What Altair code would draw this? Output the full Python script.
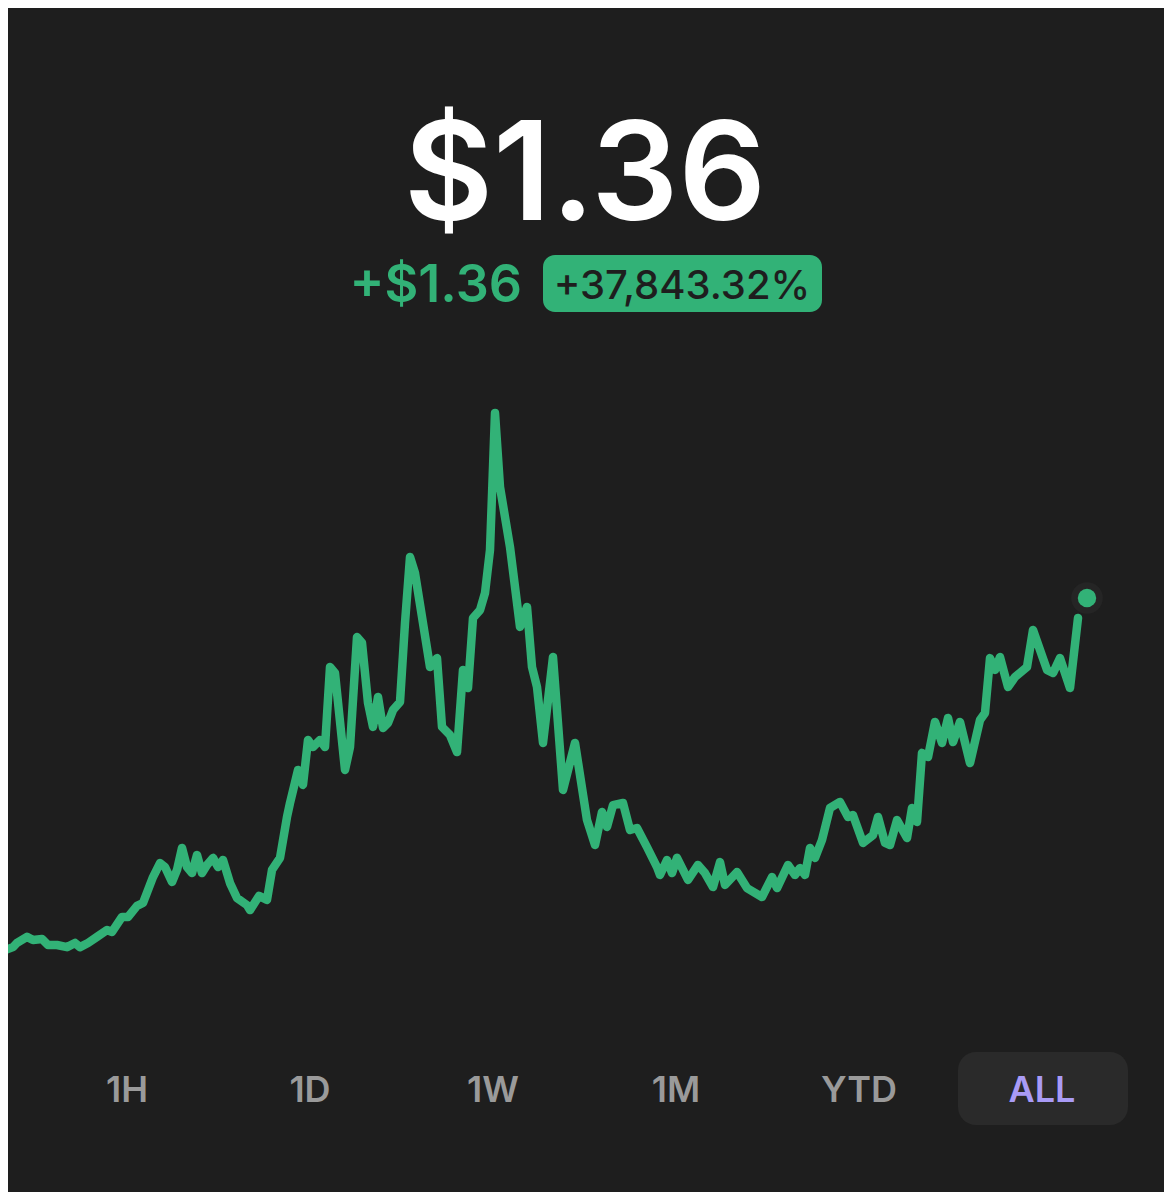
import altair as alt
import pandas as pd

# ---- data ----
days = [0, 13, 17, 27, 33, 42, 48, 57, 67, 75, 80, 88, 97, 107, 112, 122, 128, 137, 143, 153,
        160, 165, 172, 177, 182, 187, 192, 197, 202, 207, 213, 218, 223, 230, 237, 247, 250, 259, 267, 272,
        280, 287, 290, 298, 303, 308, 313, 320, 325, 330, 335, 345, 350, 357, 362, 368, 373, 378, 383, 388,
        393, 400, 405, 410, 415, 430, 437, 442, 450, 457, 463, 468, 473, 480, 485, 490, 495, 500, 510, 520,
        527, 532, 537, 543, 553, 563, 575, 587, 595, 602, 607, 613, 623, 630, 637, 647, 657, 660, 667, 672,
        677, 688, 698, 705, 713, 720, 725, 737, 747, 762, 772, 777, 788, 795, 800, 805, 810, 815, 822, 830,
        840, 848, 853, 863, 873, 878, 885, 890, 897, 907, 912, 917, 922, 928, 935, 942, 948, 953, 960, 970,
        980, 985, 990, 995, 1000, 1008, 1015, 1027, 1033, 1047, 1053, 1060, 1070, 1078]
prices = [0.011, 0.030, 0.046, 0.069, 0.057, 0.061, 0.038, 0.038, 0.030, 0.046, 0.030, 0.046, 0.069, 0.095, 0.088, 0.145, 0.145, 0.187, 0.198, 0.297,
          0.350, 0.335, 0.278, 0.324, 0.408, 0.335, 0.312, 0.381, 0.312, 0.343, 0.370, 0.335, 0.362, 0.274, 0.217, 0.190, 0.171, 0.225, 0.210, 0.324,
          0.370, 0.526, 0.579, 0.705, 0.648, 0.819, 0.792, 0.819, 0.792, 1.097, 1.074, 0.705, 0.792, 1.211, 1.189, 0.960, 0.869, 0.983, 0.865, 0.884,
          0.933, 0.964, 1.265, 1.516, 1.455, 1.097, 1.131, 0.869, 0.838, 0.773, 1.086, 1.017, 1.284, 1.314, 1.379, 1.543, 2.065, 1.783, 1.554, 1.250,
          1.326, 1.097, 1.021, 0.808, 1.135, 0.629, 0.808, 0.514, 0.419, 0.545, 0.488, 0.571, 0.579, 0.476, 0.484, 0.411, 0.335, 0.305, 0.362, 0.312,
          0.370, 0.286, 0.343, 0.312, 0.259, 0.354, 0.267, 0.316, 0.255, 0.221, 0.297, 0.255, 0.343, 0.305, 0.331, 0.305, 0.408, 0.370, 0.438, 0.560,
          0.583, 0.526, 0.533, 0.427, 0.457, 0.526, 0.427, 0.419, 0.514, 0.446, 0.560, 0.507, 0.770, 0.754, 0.888, 0.808, 0.903, 0.811, 0.888, 0.731,
          0.895, 0.922, 1.131, 1.086, 1.135, 1.021, 1.059, 1.097, 1.238, 1.086, 1.074, 1.131, 1.017, 1.284]
last_day = [1087]
last_price = [1.36]

price_label = ["$1.36"]
change_label = ["+$1.36"]
pct_label = ["+37,843.32%"]
tabs = ["1H", "1D", "1W", "1M", "YTD", "ALL"]
selected_tab = "ALL"

# ---- style ----
BG = "#1e1e1e"
GREEN = "#32b277"
FONT = "Inter"
W, H = 1156, 1184

line_df = pd.DataFrame({"day": days, "price": prices})
dot_df = pd.DataFrame({"day": last_day, "price": last_price})

xs = alt.Scale(domain=[0, 1087], range=[-8, 1079])
ys = alt.Scale(domain=[0, 1.36], range=[947, 590])

line = alt.Chart(line_df).mark_line(
    color=GREEN, strokeWidth=8.5, strokeCap="round", strokeJoin="round", clip=True
).encode(
    x=alt.X("day:Q", scale=xs, axis=None),
    y=alt.Y("price:Q", scale=ys, axis=None),
)

halo = alt.Chart(dot_df).mark_circle(color="#252525", opacity=1, size=1000).encode(
    x=alt.X("day:Q", scale=xs, axis=None),
    y=alt.Y("price:Q", scale=ys, axis=None),
)
dot = alt.Chart(dot_df).mark_circle(color=GREEN, opacity=1, size=340).encode(
    x=alt.X("day:Q", scale=xs, axis=None),
    y=alt.Y("price:Q", scale=ys, axis=None),
)

title = alt.Chart(pd.DataFrame({"t": price_label})).mark_text(
    font=FONT, fontSize=137, fontWeight=600, color="#ffffff", align="center", baseline="alphabetic"
).encode(text="t:N", x=alt.value(577), y=alt.value(212))

change = alt.Chart(pd.DataFrame({"t": change_label})).mark_text(
    font=FONT, fontSize=52, fontWeight=600, color=GREEN, align="right", baseline="alphabetic"
).encode(text="t:N", x=alt.value(514), y=alt.value(294))

badge = alt.Chart(pd.DataFrame({"t": pct_label})).mark_rect(
    color=GREEN, cornerRadius=12
).encode(x=alt.value(535), x2=alt.value(814), y=alt.value(247), y2=alt.value(304))

badge_text = alt.Chart(pd.DataFrame({"t": pct_label})).mark_text(
    font=FONT, fontSize=40, fontWeight=500, color=BG, align="center", baseline="alphabetic"
).encode(text="t:N", x=alt.value(674), y=alt.value(291))

tab_box = alt.Chart(pd.DataFrame({"t": [selected_tab]})).mark_rect(
    color="#2a2a2a", cornerRadius=18
).encode(x=alt.value(950), x2=alt.value(1120), y=alt.value(1044), y2=alt.value(1117))

layers = [line, halo, dot, title, change, badge, badge_text, tab_box]
tab_x = [119, 302, 485, 668, 851, 1034]
for name, px in zip(tabs, tab_x):
    col = "#a99bf6" if name == selected_tab else "#9a9a9a"
    layers.append(
        alt.Chart(pd.DataFrame({"t": [name]})).mark_text(
            font=FONT, fontSize=36, fontWeight=600, color=col, align="center", baseline="alphabetic"
        ).encode(text="t:N", x=alt.value(px), y=alt.value(1094))
    )

chart = alt.layer(*layers).properties(
    width=W, height=H, background=BG, padding=0,
    autosize=alt.AutoSizeParams(type="none"),
).configure_view(stroke=None)

chart.save("out.html", embed_options={"renderer": "svg", "actions": False})
